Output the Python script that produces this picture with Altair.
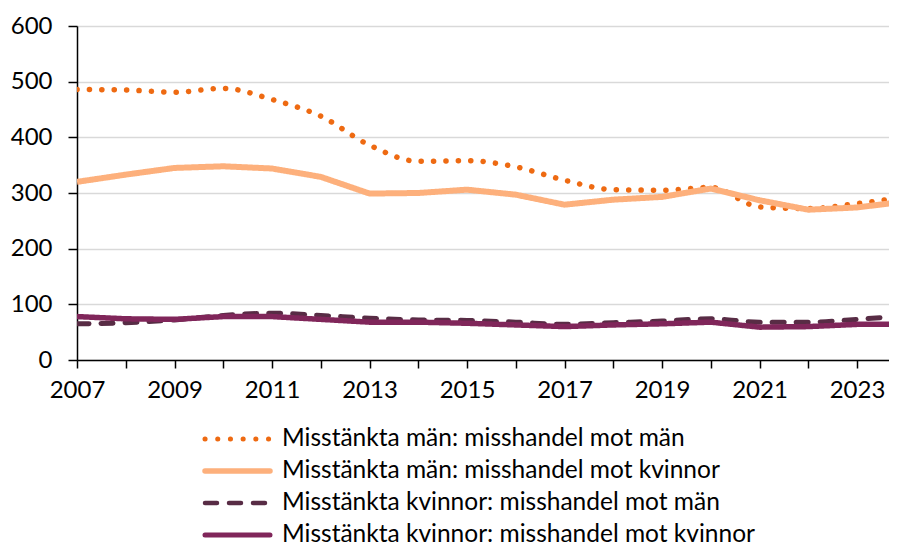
import altair as alt
import pandas as pd

years = list(range(2007, 2025))
tick_years = list(range(2007, 2024))
y_ticks = [0, 100, 200, 300, 400, 500, 600]

series_names = [
    "Misstänkta män: misshandel mot män",
    "Misstänkta män: misshandel mot kvinnor",
    "Misstänkta kvinnor: misshandel mot män",
    "Misstänkta kvinnor: misshandel mot kvinnor",
]
man_mot_man = [486, 485, 481, 488, 468, 438, 386, 357, 358, 347, 323, 306, 305, 310, 275, 272, 281, 293]
man_mot_kvinna = [320, 333, 345, 348, 344, 329, 299, 300, 306, 297, 279, 288, 293, 308, 287, 270, 274, 285]
kvinna_mot_man = [65, 67, 72, 80, 84, 80, 75, 72, 71, 68, 64, 67, 70, 74, 68, 68, 73, 80]
kvinna_mot_kvinna = [78, 74, 73, 78, 78, 73, 68, 68, 66, 63, 60, 63, 65, 68, 59, 60, 64, 64]

colors = ["#EE6A12", "#FDB07C", "#582C45", "#80265A"]
widths = [5.5, 6, 5, 5.5]
dashes = [[0.1, 12.3], [1, 0], [12, 12], [1, 0]]
caps = ["round", "butt", "round", "butt"]
interps = ["monotone", "linear", "monotone", "linear"]

rows = []
for name, vals in zip(series_names, [man_mot_man, man_mot_kvinna, kvinna_mot_man, kvinna_mot_kvinna]):
    for yr, v in zip(years, vals):
        rows.append({"serie": name, "year": yr, "value": v})
df = pd.DataFrame(rows)
legend_df = pd.DataFrame({"serie": series_names})

FONT = "Lato"
x_scale = alt.Scale(domain=[2007, 2023.656], nice=False, zero=False)
y_scale = alt.Scale(domain=[0, 600], nice=False, zero=True)

x_axis = alt.Axis(
    values=tick_years, format="d",
    labelExpr="datum.value % 2 == 1 ? datum.label : ''",
    grid=False, tickSize=8, tickWidth=1.5, tickColor="black",
    domainColor="black", domainWidth=1.5, labelPadding=10,
    labelFontSize=24, labelFont=FONT, labelColor="black",
    labelFlush=False, labelOverlap=False, title=None,
)
y_axis = alt.Axis(
    values=y_ticks, format="d",
    grid=True, gridColor="#D9D9D9", gridWidth=1.5,
    tickSize=9, tickWidth=1.5, tickColor="black",
    domainColor="black", domainWidth=1.5, labelPadding=16,
    labelFontSize=24, labelFont=FONT, labelColor="black", title=None,
)

layers = []
for i, name in enumerate(series_names):
    layers.append(
        alt.Chart(df)
        .transform_filter(alt.datum.serie == name)
        .mark_line(
            color=colors[i], strokeWidth=widths[i], strokeDash=dashes[i],
            strokeCap=caps[i], interpolate=interps[i], clip=True,
        )
        .encode(
            x=alt.X("year:Q", scale=x_scale, axis=x_axis),
            y=alt.Y("value:Q", scale=y_scale, axis=y_axis),
        )
    )

leg_y = [413, 445, 477, 509]
for i, name in enumerate(series_names):
    src = alt.Chart(legend_df).transform_filter(alt.datum.serie == name)
    layers.append(
        src.mark_rule(
            color=colors[i], strokeWidth=widths[i] - 0.5,
            strokeDash=[0.1, 12.6] if i == 0 else dashes[i],
            strokeCap="round",
        ).encode(x=alt.value(128), x2=alt.value(193), y=alt.value(leg_y[i]))
    )
    layers.append(
        src.mark_text(
            align="left", baseline="middle", font=FONT, fontSize=24.5, color="black",
        ).encode(text="serie:N", x=alt.value(205), y=alt.value(leg_y[i]))
    )

chart = (
    alt.layer(*layers)
    .properties(
        width=812, height=334,
        padding={"left": 69, "top": 18, "right": 0, "bottom": 186},
        autosize=alt.AutoSizeParams(type="none"),
    )
    .configure_view(stroke=None)
)

chart.save("out.html", embed_options={"renderer": "svg", "actions": False})
